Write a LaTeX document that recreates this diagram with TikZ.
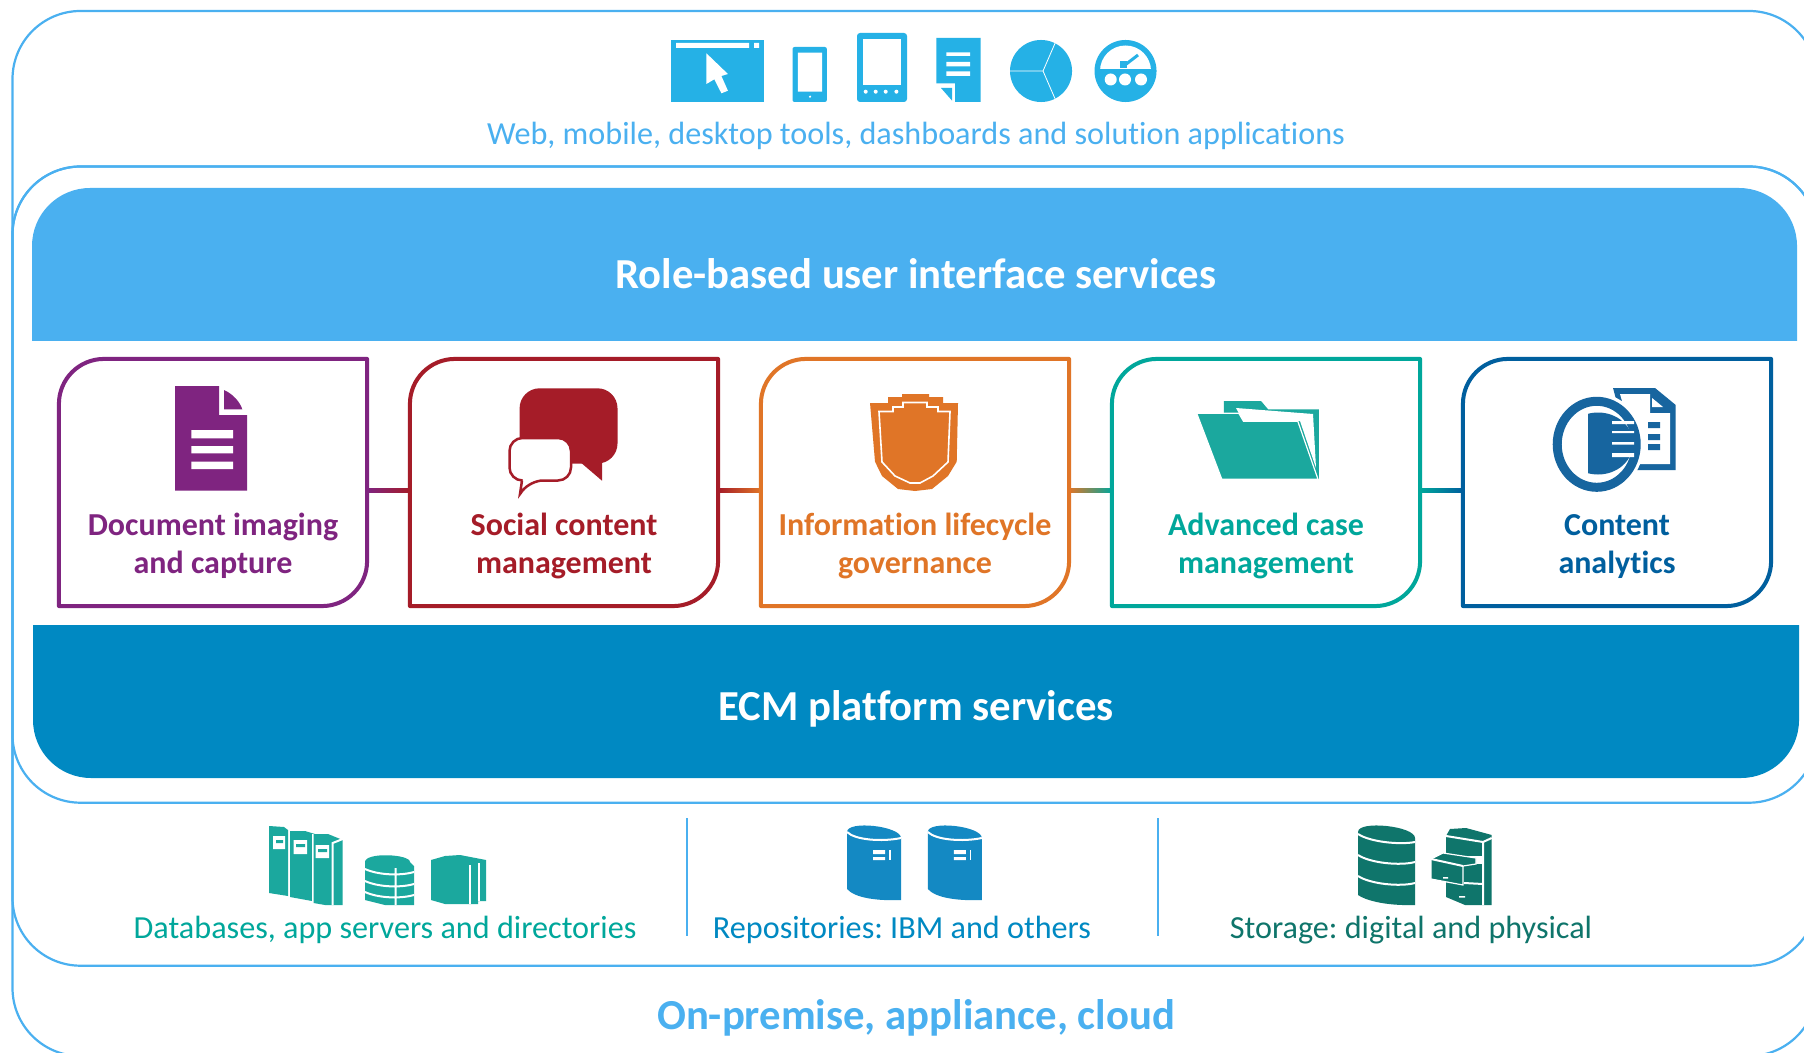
\documentclass[tikz,border=0pt]{standalone}
\usepackage{fontspec}
\setmainfont{Carlito}[Ligatures=CommonOff]
\usepackage{xcolor}
\usepackage{tikz}
\definecolor{skyline}{HTML}{4AB0F0}
\definecolor{iconblue}{HTML}{25B1E6}
\definecolor{platformblue}{HTML}{0089C2}
\definecolor{cardpurple}{HTML}{7F2480}
\definecolor{cardred}{HTML}{A51C28}
\definecolor{cardorange}{HTML}{E07527}
\definecolor{cardteal}{HTML}{00A79B}
\definecolor{cardblue}{HTML}{005F9E}
\definecolor{iconteal}{HTML}{1BA89E}
\definecolor{iconnavy}{HTML}{17659F}
\definecolor{repoblue}{HTML}{1489C3}
\definecolor{storegreen}{HTML}{0F756B}
\tikzset{
    framing/.style={draw=skyline,line width=0.022cm,rounded corners=0.68cm},
    cardbox/.style={rectangle,minimum width=3.08cm,minimum height=2.47cm,inner sep=0pt,outer sep=0pt},
    cardline/.style={line width=0.04cm,line join=round},
    cardtext/.style={align=center,font=\fontsize{9.1}{10.8}\selectfont\bfseries},
    bandtext/.style={text=white,font=\fontsize{12.15}{14}\selectfont\bfseries},
    caption/.style={font=\fontsize{9.15}{11}\selectfont},
    cutline/.style={white,line width=0.02cm}
}
\newcommand{\cardframe}[2]{\draw[cardline,draw=#2] (#1.north east) [rounded corners=0.45cm] -- (#1.north west) [sharp corners] -- (#1.south west) [rounded corners=0.45cm] -- (#1.south east) [sharp corners] -- cycle;}
\newcommand{\cardlink}[4]{\shade[left color=#3,right color=#4] ([yshift=-0.055cm]#1.east) rectangle ([yshift=-0.095cm]#2.west);}
\begin{document}
\frenchspacing
\begin{tikzpicture}[x=0.01cm,y=-0.01cm]
    \useasboundingbox (0,0) rectangle (1804,1052);
    \clip (0,0) rectangle (1804,1052);
    \fill[white] (0,0) rectangle (1804,1052);

    \draw[framing] (12.5,11) rectangle (1817,1056);
    \draw[framing] (12.5,166.5) rectangle (1817,965.7);
    \draw[framing] (12.5,166.5) rectangle (1817,802.7);

    % client icons
    \fill[iconblue] (671,40) rectangle (764,102);
    \fill[white] (676,43) rectangle (749,48) (754,43) rectangle (759,48);
    \fill[white] (706.4,53.3)--(727.9,74)--(721.4,76)--(727.9,90.7)--(721.4,93.3)--(714.3,79.3)--(706.4,84)--cycle;
    \fill[iconblue,rounded corners=0.02cm] (792.5,47) rectangle (826.8,102);
    \fill[white] (797.9,52.7) rectangle (822.1,91.7) (810,96.7) circle (0.012cm);
    \fill[iconblue,rounded corners=0.03cm] (857,33) rectangle (907,102);
    \fill[white] (862.9,38.7) rectangle (901.4,85.3);
    \foreach \dotx in {865.7,875.7,885.7,896.4}
        \fill[white] (\dotx,91.7) circle (0.02cm);
    \fill[iconblue] (936.4,38)--(980.7,38)--(980.7,102)--(955,102)--(955,83.3)--(936.4,83.3)--cycle;
    \fill[iconblue] (941,88)--(952.1,88)--(952.1,100.7)--cycle;
    \fill[white] (946.4,52.3) rectangle (970,56) (946.4,62) rectangle (970,66.5) (946.4,71.5) rectangle (970,76);
    \fill[iconblue] (1041,71) circle (0.31cm);
    \draw[white,line width=0.008cm] (1010,71)--(1043,71)--(1056,41) (1043,71)--(1056,101);
    \fill[iconblue] (1125.5,71) circle (0.31cm);
    \begin{scope}
        \clip (1090,35) rectangle (1160,69);
        \fill[white] (1125.5,71) circle (0.255cm);
    \end{scope}
    \foreach \dotx in {1110.7,1125,1141}
        \fill[white] (\dotx,79.5) circle (0.06cm);
    \draw[iconblue,line width=0.03cm] (1125,65)--(1138,55);
    \fill[iconblue] (1120,68) rectangle (1127,61);

    \node[caption,text=skyline] (clientcaption) at (916,136) {Web, mobile, desktop tools, dashboards and solution applications};

    % service bands
    \fill[skyline] (32,341) [rounded corners=0.58cm] -- (32,188) -- (1797,188) [sharp corners] -- (1797,341) -- cycle;
    \fill[platformblue] (33,625) [rounded corners=0.58cm] -- (33,778) -- (1799,778) [sharp corners] -- (1799,625) -- cycle;
    \node[bandtext] (roleband) at (916,274) {Role-based user interface services};
    \node[bandtext] (platformband) at (916,708.5) {ECM platform services};

    % cards
    \node[cardbox] (docimg) at (213,482.5) {};
    \node[cardbox] (social) at (564,482.5) {};
    \node[cardbox] (lifecycle) at (915,482.5) {};
    \node[cardbox] (casemgmt) at (1266,482.5) {};
    \node[cardbox] (analytics) at (1617,482.5) {};
    \cardlink{docimg}{social}{cardpurple}{cardred}
    \cardlink{social}{lifecycle}{cardred}{cardorange}
    \cardlink{lifecycle}{casemgmt}{cardorange}{cardteal}
    \cardlink{casemgmt}{analytics}{cardteal}{cardblue}
    \cardframe{docimg}{cardpurple}
    \cardframe{social}{cardred}
    \cardframe{lifecycle}{cardorange}
    \cardframe{casemgmt}{cardteal}
    \cardframe{analytics}{cardblue}
    \node[cardtext,text=cardpurple] (docimgtext) at (213,545.5) {Document imaging\\and capture};
    \node[cardtext,text=cardred] (socialtext) at (564,545.5) {Social content\\management};
    \node[cardtext,text=cardorange] (lifecycletext) at (915,545.5) {Information lifecycle\\governance};
    \node[cardtext,text=cardteal] (casetext) at (1266,545.5) {Advanced case\\management};
    \node[cardtext,text=cardblue] (analyticstext) at (1617,545.5) {Content\vphantom{d}\\analytics};

    % card icons
    \fill[cardpurple] (175,386)--(219,386)--(219,415)--(247,415)--(247,490.7)--(175,490.7)--cycle;
    \fill[cardpurple] (224,390) .. controls (233,394) and (240,402) .. (242.3,409.3) -- (224,409.3) -- cycle;
    \fill[white] (191.4,430) rectangle (233,438.3) (191.4,446) rectangle (233,453.3) (191.4,461.7) rectangle (233,469);

    \fill[cardred,rounded corners=0.2cm] (519.6,388.3) rectangle (617.5,463.5);
    \fill[cardred] (577.8,460)--(602,480.7)--(602,460)--cycle;
    \draw[cardred,fill=white,line width=0.025cm,rounded corners=0.13cm] (509.5,438) -- (571,438) -- (571,480.5) -- (530,480.5) [sharp corners] -- (520,494) -- (522,480.5) [rounded corners=0.13cm] -- (509.5,480.5) -- cycle;

    \fill[cardorange] (902,394)--(929,394)--(929,397)--(943,397)--(943,403)--(958,403)--(956.7,461.7)--(948,476)--(932,489)--(915,491)--(898,489)--(882,476)--(875,461.7)--(870,403)--(888,403)--(888,397)--(902,397)--cycle;
    \draw[white,line width=0.016cm] (903,402.5)--(927,402.5)--(927,407)--(938,407)--(938,411.5)--(950,411.5)--(948,462)--(933,476)--(920,483)--(910,483)--(895,476)--(882,462)--(879,411.5)--(893,411.5)--(893,407)--(903,407)--cycle;

    \fill[iconteal] (1223.8,401)--(1261,401)--(1268,409.3)--(1318.8,409.3)--(1318.8,479)--(1250,479)--(1223.8,414)--cycle;
    \fill[white] (1236,408)--(1313,414)--(1316,468)--(1300,421)--(1243,421)--cycle;
    \draw[white,fill=iconteal,line width=0.012cm] (1196.7,413.3)--(1238.8,413.3)--(1243.5,421.3)--(1297.8,421.3)--(1318,479.3)--(1221.8,479.3)--cycle;

    \fill[iconnavy] (1613,388)--(1655,388)--(1675.7,405)--(1675.7,470)--(1635,470)--cycle;
    \fill[white] (1620,394)--(1650,394)--(1650,413)--(1670,413)--(1670,464)--(1640,464)--cycle;
    \fill[white] (1652,398)--(1663,407)--(1652,407)--cycle;
    \fill[iconnavy] (1648,422) rectangle (1660,428) (1648,434) rectangle (1660,440) (1648,444) rectangle (1660,450);
    \fill[white] (1596.7,444.3) ellipse (47 and 51);
    \draw[iconnavy,line width=0.09cm] (1596.7,444.3) ellipse (39.5 and 43);
    \begin{scope}
        \clip (1588,405) rectangle (1640,485);
        \fill[iconnavy] (1598,443.5) ellipse (35 and 31);
    \end{scope}
    \fill[white] (1612,421) rectangle (1634,424) (1612,431) rectangle (1634,433) (1612,442) rectangle (1634,444.5) (1612,453) rectangle (1634,457);

    % backend icons
    \fill[iconteal] (269,826)--(284,827)--(288,830)--(288,896)--(269,893)--cycle;
    \fill[iconteal] (290,831)--(305,831)--(315,834)--(312,901)--(290,897)--cycle;
    \fill[white] (312,834) rectangle (313.5,905);
    \fill[iconteal] (313.5,834)--(328,834)--(342.7,840)--(342.7,905)--(325,905)--(313.5,903)--cycle;
    \draw[cutline] (342.7,839)--(332.7,843)--(332.7,905);
    \fill[white] (273,836) rectangle (285,849) (293.6,840) rectangle (307,854) (315.5,845) rectangle (329,858);
    \fill[iconteal] (276,840) rectangle (283,843) (296,844) rectangle (305,847) (318,849) rectangle (327,852);
    \fill[iconteal] (365,862) .. controls (365,852) and (410,854) .. (410,862) -- (414,866) -- (414,905) -- (385,905) -- (365,900) -- cycle;
    \draw[cutline] (365,869) .. controls (378,875) and (400,876) .. (414,872) (365,881) .. controls (378,887) and (400,888) .. (414,884) (365,892) .. controls (378,898) and (400,899) .. (414,895) (395.6,868)--(395.6,905);
    \fill[iconteal] (431,860)--(445,856)--(460,855)--(486,860)--(486,901)--(478,901)--(478,904)--(445,904)--(431,900)--cycle;
    \draw[cutline] (470,865)--(470,904) (479,863)--(479,901);
    \foreach \cylx in {847,927.8} {
        \begin{scope}[shift={(\cylx,0)}]
            \fill[repoblue] (0,832) .. controls (0,820) and (54,826) .. (54,838) -- (54,900) .. controls (30,901) and (8,898) .. (0,889) -- cycle;
            \draw[cutline] (0,832) .. controls (8,840) and (35,842) .. (54,838);
            \fill[white] (26,850) rectangle (38,854) (26,857) rectangle (38,860);
            \fill[white] (42,850) rectangle (43.5,860);
        \end{scope}
    }
    \fill[storegreen] (1358,832) .. controls (1358,820) and (1415,826) .. (1415,838) -- (1415,890) -- (1415,905) .. controls (1385,906) and (1365,900) .. (1358,895) -- cycle;
    \draw[cutline] (1358,834) .. controls (1370,842) and (1400,845) .. (1415,842) (1358,855) .. controls (1370,863) and (1400,866) .. (1415,862) (1358,876) .. controls (1370,884) and (1400,887) .. (1415,883);
    \fill[storegreen] (1450,829)--(1466,828)--(1491.7,835)--(1491.7,905)--(1465,905)--(1446,897)--(1446,836)--cycle;
    \fill[white] (1466,856) rectangle (1484,864);
    \draw[cutline] (1446,836)--(1483,842)--(1491.7,838) (1483,842)--(1483,905) (1464,883)--(1483,884);
    \draw[white,fill=storegreen,line width=0.012cm] (1431,859)--(1443,853)--(1476,858)--(1476,864)--(1463,866)--(1463,885)--(1431,879)--cycle;
    \draw[cutline] (1431,859)--(1463,866);
    \fill[white] (1443,877) rectangle (1448,878.5) (1459,896) rectangle (1465,897.5);

    \draw[skyline,line width=0.02cm] (686.5,818)--(686.5,936);
    \draw[skyline,line width=0.02cm] (1158,818)--(1158,936);

    \node[caption,text=cardteal] (dbcaption) at (385,930) {Databases, app servers and directories};
    \node[caption,text=platformblue] (repocaption) at (902,930) {Repositories: IBM and others};
    \node[caption,text=storegreen] (storecaption) at (1411,930) {Storage: digital and physical};
    \node[text=skyline,font=\fontsize{12.15}{14}\selectfont\bfseries] (deploycaption) at (916,1018) {On-premise, appliance, cloud};
\end{tikzpicture}
\end{document}
